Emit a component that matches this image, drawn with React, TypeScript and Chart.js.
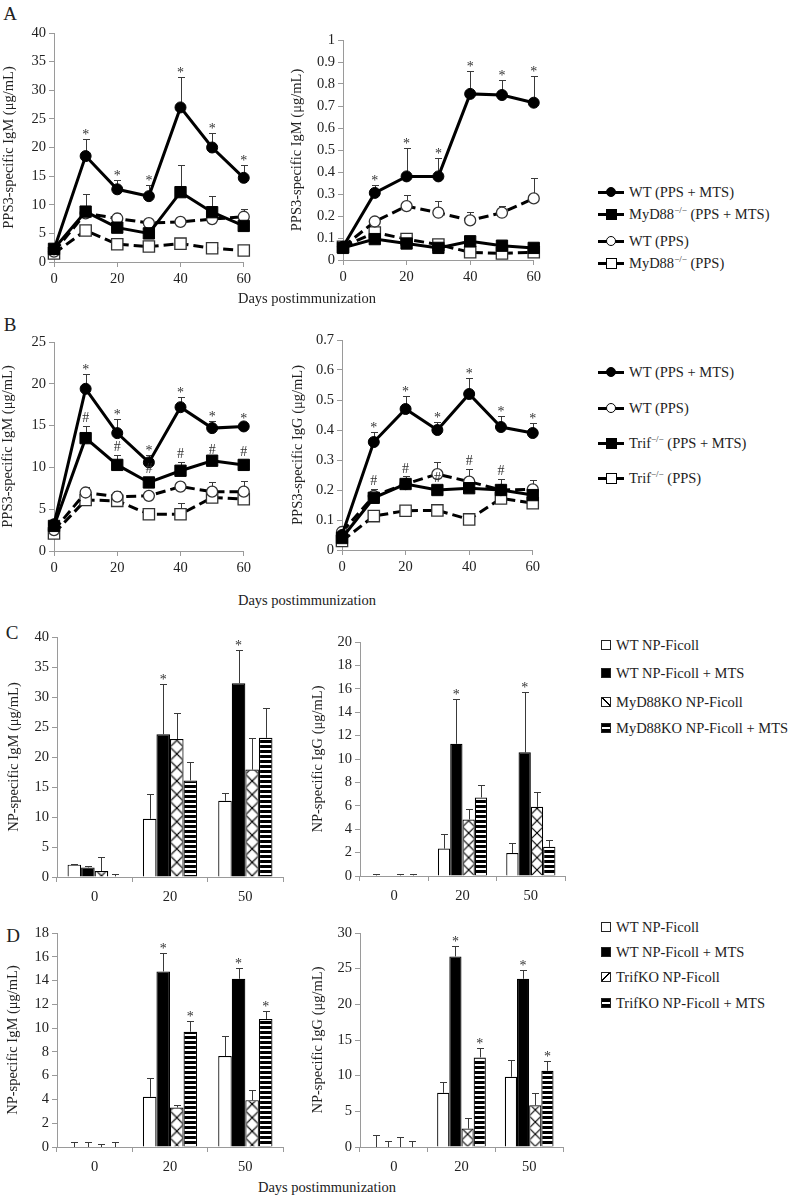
import React, { useEffect, useRef } from "react";
import { Chart, registerables } from "chart.js";
Chart.register(...registerables);

const FONT = '"Liberation Serif", "Times New Roman", "DejaVu Serif", serif';

// ---------- Panels A / B : time courses ----------
const days = [0, 10, 20, 30, 40, 50, 60];

// A left: PPS3-specific IgM (0-40)
const aLWtMts = [2.2, 18.5, 12.7, 11.5, 27.0, 20.0, 14.7];
const aLWtMtsErr = [null, 21.5, 14.3, 13.5, 32.3, 22.6, 17.0];
const aLMyMts = [2.3, 8.8, 6.0, 5.0, 12.2, 8.7, 6.3];
const aLMyMtsErr = [null, 11.8, null, null, 16.9, 11.5, null];
const aLWtPps = [1.8, 8.5, 7.6, 6.8, 7.0, 7.5, 7.9];
const aLWtPpsErr = [null, 9.7, 8.5, null, null, 8.2, 9.2];
const aLMyPps = [1.5, 5.5, 3.1, 2.7, 3.2, 2.4, 2.0];
const aLStars = ["", "*", "*", "*", "*", "*", "*"];

// A right: PPS3-specific IgM (0-1)
const aRWtMts = [0.06, 0.305, 0.38, 0.38, 0.755, 0.75, 0.715];
const aRWtMtsErr = [null, 0.34, 0.51, 0.465, 0.86, 0.82, 0.835];
const aRMyMts = [0.055, 0.095, 0.075, 0.055, 0.085, 0.065, 0.055];
const aRWtPps = [0.06, 0.175, 0.245, 0.215, 0.18, 0.215, 0.28];
const aRWtPpsErr = [null, 0.19, 0.295, 0.27, 0.22, 0.245, 0.375];
const aRMyPps = [0.06, 0.125, 0.095, 0.07, 0.035, 0.03, 0.035];
const aRStars = ["", "*", "*", "*", "*", "*", "*"];

// B left: PPS3-specific IgM (0-25)
const bLWtMts = [3.2, 19.4, 14.1, 10.6, 17.2, 14.7, 14.9];
const bLWtMtsErr = [null, 21.2, 15.8, 11.5, 18.4, 15.6, 15.3];
const bLTrMts = [3.0, 13.5, 10.3, 8.2, 9.6, 10.8, 10.3];
const bLTrMtsErr = [null, 15.0, 11.5, 8.9, 10.6, 11.1, 10.9];
const bLWtPps = [2.5, 7.0, 6.5, 6.6, 7.7, 7.1, 7.1];
const bLWtPpsErr = [null, 7.6, 7.2, null, 8.3, 8.3, 8.4];
const bLTrPps = [2.1, 6.1, 6.0, 4.4, 4.4, 6.4, 6.2];
const bLTrPpsErr = [null, null, null, null, 5.8, null, null];
const bLStars = ["", "*", "*", "*", "*", "*", "*"];
const bLHashes = ["", "#", "#", "#", "#", "#", "#"];

// B right: PPS3-specific IgG (0-0.7)
const bRWtMts = [0.05, 0.36, 0.47, 0.4, 0.52, 0.41, 0.39];
const bRWtMtsErr = [null, 0.392, 0.513, 0.428, 0.574, 0.448, 0.424];
const bRTrMts = [0.04, 0.174, 0.22, 0.2, 0.206, 0.2, 0.183];
const bRTrMtsErr = [null, 0.202, 0.245, 0.215, 0.27, 0.237, null];
const bRWtPps = [0.06, 0.18, 0.22, 0.253, 0.228, 0.2, 0.202];
const bRWtPpsErr = [null, null, null, 0.292, null, null, 0.235];
const bRTrPps = [0.03, 0.113, 0.131, 0.132, 0.102, 0.172, 0.156];
const bRStars = ["", "*", "*", "*", "*", "*", "*"];
const bRHashes = ["", "#", "#", "#", "#", "#", ""];

// ---------- Panels C / D : NP-Ficoll bars ----------
const groups = ["0", "20", "50"];

// C left: NP-specific IgM (0-40)
const cLWt = [2.06, 9.7, 12.7];
const cLWtErr = [2.2, 13.9, 14.05];
const cLWtMts = [1.6, 23.8, 32.3];
const cLWtMtsErr = [1.85, 32.2, 37.9];
const cLKo = [1.0, 23.0, 17.9];
const cLKoErr = [3.4, 27.3, 23.2];
const cLKoMts = [0.1, 16.1, 23.2];
const cLKoMtsErr = [0.5, 19.1, 28.1];
const cLStars = ["", "*", "*"];

// C right: NP-specific IgG (0-20)
const cRWt = [0.05, 2.34, 1.97];
const cRWtErr = [0.15, 3.63, 2.83];
const cRWtMts = [0, 11.3, 10.57];
const cRWtMtsErr = [null, 15.14, 15.7];
const cRKo = [0.05, 4.83, 5.91];
const cRKoErr = [0.15, 5.74, 7.2];
const cRKoMts = [0.05, 6.71, 2.49];
const cRKoMtsErr = [0.15, 7.77, 3.06];
const cRStars = ["", "*", "*"];

// D left: NP-specific IgM (0-18)
const dLWt = [0, 4.22, 7.65];
const dLWtErr = [0.42, 5.77, 9.37];
const dLWtMts = [0, 14.77, 14.15];
const dLWtMtsErr = [0.42, 16.3, 15.05];
const dLKo = [0, 3.32, 3.94];
const dLKoErr = [0.28, 3.52, 4.78];
const dLKoMts = [0, 9.7, 10.77];
const dLKoMtsErr = [0.42, 10.63, 11.42];
const dLStars = ["", "*", "*"];

// D right: NP-specific IgG (0-30)
const dRWt = [0, 7.6, 9.84];
const dRWtErr = [1.73, 9.14, 12.19];
const dRWtMts = [0, 26.72, 23.58];
const dRWtMtsErr = [0.84, 28.2, 24.84];
const dRKo = [0, 2.58, 5.86];
const dRKoErr = [1.41, 4.13, 7.59];
const dRKoMts = [0, 12.56, 10.69];
const dRKoMtsErr = [0.84, 13.92, 12.05];
const dRStars = ["", "*", "*"];

// ---------- text ----------
const yTitlePpsIgm = "PPS3-specific IgM (μg/mL)";
const yTitlePpsIgg = "PPS3-specific IgG (μg/mL)";
const yTitleNpIgm = "NP-specific IgM (μg/mL)";
const yTitleNpIgg = "NP-specific IgG (μg/mL)";
const xTitle = "Days postimmunization";

const legendA = [
  { name: "WT", sup: "", rest: " (PPS + MTS)", shape: "circle", filled: true },
  { name: "MyD88", sup: "−/−", rest: " (PPS + MTS)", shape: "square", filled: true },
  { name: "WT", sup: "", rest: " (PPS)", shape: "circle", filled: false },
  { name: "MyD88", sup: "−/−", rest: " (PPS)", shape: "square", filled: false },
];
const legendB = [
  { name: "WT", sup: "", rest: " (PPS + MTS)", shape: "circle", filled: true },
  { name: "WT", sup: "", rest: " (PPS)", shape: "circle", filled: false },
  { name: "Trif", sup: "−/−", rest: " (PPS + MTS)", shape: "square", filled: true },
  { name: "Trif", sup: "−/−", rest: " (PPS)", shape: "square", filled: false },
];
const legendC = ["WT NP-Ficoll", "WT NP-Ficoll + MTS", "MyD88KO NP-Ficoll", "MyD88KO NP-Ficoll + MTS"];
const legendD = ["WT NP-Ficoll", "WT NP-Ficoll + MTS", "TrifKO NP-Ficoll", "TrifKO NP-Ficoll + MTS"];

// ---------- helpers ----------
const AXIS = "#9a9a9a";
const TXT = "#222";
const CAT_PCT = 0.72;

const errPlugin = {
  id: "errAndMarks",
  beforeDatasetsDraw(chart: any) {
    const ctx = chart.ctx;
    const ys = chart.scales.y;
    chart.data.datasets.forEach((ds: any, di: number) => {
      if (!ds.errTop) return;
      const meta = chart.getDatasetMeta(di);
      const cap = ds.capW || 7;
      ctx.save();
      ctx.strokeStyle = "#3a3a3a";
      ctx.lineWidth = 1;
      ctx.setLineDash([]);
      ds.errTop.forEach((t: any, i: number) => {
        if (t == null) return;
        const el = meta.data[i];
        if (!el) return;
        const x = Math.round(el.x) + 0.5;
        const y1 = Math.round(ys.getPixelForValue(t)) + 0.5;
        ctx.beginPath();
        ctx.moveTo(x, el.y);
        ctx.lineTo(x, y1);
        ctx.moveTo(x - cap / 2, y1);
        ctx.lineTo(x + cap / 2, y1);
        ctx.stroke();
      });
      ctx.restore();
    });
  },
  afterDatasetsDraw(chart: any) {
    const ctx = chart.ctx;
    const ys = chart.scales.y;
    chart.data.datasets.forEach((ds: any, di: number) => {
      if (!ds.marks) return;
      const meta = chart.getDatasetMeta(di);
      ctx.save();
      ctx.fillStyle = "#333";
      ctx.font = `14px ${FONT}`;
      ctx.textAlign = "center";
      ctx.textBaseline = "alphabetic";
      ds.marks.forEach((m: string, i: number) => {
        if (!m) return;
        const el = meta.data[i];
        if (!el) return;
        const t = ds.errTop && ds.errTop[i] != null ? ys.getPixelForValue(ds.errTop[i]) : el.y - 6;
        const y = m === "#" ? t - 4 : t;
        ctx.fillText(m, el.x, y);
      });
      ctx.restore();
    });
  },
};

type Geom = { left: number; padL: number; aL: number; aT: number; aB: number; aR: number };
const PAD_T = 12, PAD_R = 8, X_H = 26, PAD_B = 2;
function dims(g: Geom) {
  return {
    top: g.aT - PAD_T,
    width: g.aR + PAD_R - g.left,
    height: PAD_T + (g.aB - g.aT) + X_H + PAD_B,
    yW: g.aL - g.left - g.padL,
  };
}

const fmt = (v: any) => String(Math.round(Number(v) * 1000) / 1000);

function yScale(g: Geom, max: number, step: number, title: string) {
  const d = dims(g);
  return {
    type: "linear",
    min: 0,
    max,
    ticks: { stepSize: step, color: TXT, font: { family: FONT, size: 14.5 }, padding: 3, callback: fmt },
    grid: { drawOnChartArea: false, drawTicks: true, tickLength: 5, color: AXIS },
    border: { display: true, color: AXIS, width: 1 },
    title: { display: true, text: title, color: TXT, font: { family: FONT, size: 14.5, lineHeight: 1 }, padding: 0 },
    afterFit: (s: any) => {
      s.width = d.yW;
    },
  };
}

function xLinear() {
  return {
    type: "linear",
    min: 0,
    max: 60,
    ticks: { stepSize: 20, color: TXT, font: { family: FONT, size: 14.5 }, padding: 3, maxRotation: 0 },
    grid: { drawOnChartArea: false, drawTicks: true, tickLength: 5, color: AXIS },
    border: { display: true, color: AXIS, width: 1 },
    afterFit: (s: any) => {
      s.height = X_H;
    },
  };
}

function xCategory() {
  return {
    type: "category",
    ticks: { color: TXT, font: { family: FONT, size: 14.5 }, padding: 6, maxRotation: 0 },
    grid: { offset: true, drawOnChartArea: false, drawTicks: true, tickLength: 5, color: AXIS },
    border: { display: true, color: AXIS, width: 1 },
    afterFit: (s: any) => {
      s.height = X_H;
    },
  };
}

function baseOptions(g: Geom) {
  return {
    responsive: false,
    animation: false,
    devicePixelRatio: 1,
    layout: { padding: { left: g.padL, top: PAD_T, right: PAD_R, bottom: PAD_B } },
    plugins: { legend: { display: false }, tooltip: { enabled: false } },
    events: [],
  };
}

function lineDs(values: number[], errTop: any[] | null, marks: string[] | null, shape: string, filled: boolean) {
  return {
    data: days.map((d, i) => ({ x: d, y: values[i] })),
    errTop,
    marks,
    capW: 7,
    borderColor: "#000",
    borderWidth: 3,
    borderDash: filled ? [] : [10, 5],
    pointStyle: shape === "circle" ? "circle" : "rect",
    pointRadius: shape === "circle" ? 5.5 : 8,
    pointBackgroundColor: filled ? "#000" : "#fff",
    pointBorderColor: filled ? "#000" : "#333",
    pointBorderWidth: filled ? 1 : 1.3,
    tension: 0,
    clip: false,
  };
}

function lineConfig(g: Geom, max: number, step: number, title: string, sets: any[]) {
  return {
    type: "line",
    data: { datasets: sets },
    options: { ...baseOptions(g), scales: { x: xLinear(), y: yScale(g, max, step, title) } },
    plugins: [errPlugin],
  };
}

function makePatterns() {
  const c1 = document.createElement("canvas");
  c1.width = 12;
  c1.height = 12;
  const g1 = c1.getContext("2d")!;
  g1.fillStyle = "#fff";
  g1.fillRect(0, 0, 12, 12);
  g1.strokeStyle = "#000";
  g1.lineWidth = 1.1;
  g1.beginPath();
  g1.moveTo(-1, -1);
  g1.lineTo(13, 13);
  g1.moveTo(13, -1);
  g1.lineTo(-1, 13);
  g1.stroke();
  const c2 = document.createElement("canvas");
  c2.width = 5;
  c2.height = 5;
  const g2 = c2.getContext("2d")!;
  g2.fillStyle = "#fff";
  g2.fillRect(0, 0, 5, 5);
  g2.fillStyle = "#000";
  g2.fillRect(0, 0, 5, 3);
  return { crossTile: c1, stripeTile: c2 };
}

function barConfig(
  ctx: CanvasRenderingContext2D,
  g: Geom,
  max: number,
  step: number,
  title: string,
  vals: number[][],
  errs: any[][],
  marks: (string[] | null)[]
) {
  const p = makePatterns();
  const stripe = ctx.createPattern(p.stripeTile, "repeat");
  // cross-hatch aligned so that one "X" spans the bar width
  const crossFill = (c: any) => {
    const xs = c.chart.scales.x;
    const pat: any = ctx.createPattern(p.crossTile, "repeat");
    if (!xs || c.dataIndex == null || !xs.width) return pat;
    const cx = xs.getPixelForValue(c.dataIndex);
    const w = ((xs.width / groups.length) * CAT_PCT) / 4;
    if (pat && pat.setTransform && typeof DOMMatrix !== "undefined") {
      pat.setTransform(new DOMMatrix().translate(cx, 0).scale(w / 12, w / 12));
    }
    return pat;
  };
  const fills: any[] = ["#fff", "#000", crossFill, stripe];
  return {
    type: "bar",
    data: {
      labels: groups,
      datasets: vals.map((v, k) => ({
        data: v,
        errTop: errs[k],
        marks: marks[k],
        capW: 7,
        backgroundColor: fills[k],
        borderColor: "#000",
        borderWidth: 1.2,
        categoryPercentage: CAT_PCT,
        barPercentage: 1,
      })),
    },
    options: { ...baseOptions(g), scales: { x: xCategory(), y: yScale(g, max, step, title) } },
    plugins: [errPlugin],
  };
}

function ChartBox({ g, make }: { g: Geom; make: (ctx: CanvasRenderingContext2D) => any }) {
  const ref = useRef<HTMLCanvasElement>(null);
  const d = dims(g);
  useEffect(() => {
    const c = ref.current!;
    const chart = new Chart(c, make(c.getContext("2d")!));
    return () => chart.destroy();
  }, []);
  return (
    <canvas
      ref={ref}
      width={d.width}
      height={d.height}
      style={{ position: "absolute", left: g.left, top: d.top, width: d.width, height: d.height }}
    />
  );
}

// ---------- geometry ----------
const gAL: Geom = { left: 0, padL: 2, aL: 54, aT: 33, aB: 262, aR: 246 };
const gAR: Geom = { left: 287, padL: 3, aL: 343, aT: 40, aB: 260, aR: 536 };
const gBL: Geom = { left: 0, padL: 1, aL: 54, aT: 342, aB: 551, aR: 246 };
const gBR: Geom = { left: 287, padL: 4, aL: 342, aT: 340, aB: 550, aR: 535 };
const gCL: Geom = { left: 0, padL: 7, aL: 57, aT: 637, aB: 877, aR: 283 };
const gCR: Geom = { left: 300, padL: 11, aL: 360, aT: 642, aB: 876, aR: 565 };
const gDL: Geom = { left: 0, padL: 6, aL: 57, aT: 933, aB: 1147, aR: 283 };
const gDR: Geom = { left: 300, padL: 11, aL: 360, aT: 933, aB: 1147, aR: 563 };

// ---------- legend pieces ----------
function LineKey({ shape, filled }: { shape: string; filled: boolean }) {
  return (
    <span style={{ position: "relative", display: "inline-block", width: 26, height: 12, marginRight: 5, flex: "none" }}>
      <span style={{ position: "absolute", left: 0, right: 0, top: 4.5, height: 3, background: "#000" }} />
      <span
        style={{
          position: "absolute",
          left: shape === "circle" ? 8 : 7.5,
          top: shape === "circle" ? 1 : 0.5,
          width: shape === "circle" ? 10 : 11,
          height: shape === "circle" ? 10 : 11,
          boxSizing: "border-box",
          border: "1.3px solid #000",
          borderRadius: shape === "circle" ? "50%" : 0,
          background: filled ? "#000" : "#fff",
        }}
      />
    </span>
  );
}

const keyFills = [
  "#fff",
  "#000",
  "linear-gradient(45deg, #fff 0 44%, #000 44% 58%, #fff 58%)",
  "linear-gradient(#000 0 35%, #fff 35% 62%, #000 62%)",
];
const keyFillsD = [
  "#fff",
  "#000",
  "linear-gradient(-45deg, #fff 0 44%, #000 44% 58%, #fff 58%)",
  "linear-gradient(#000 0 35%, #fff 35% 62%, #000 62%)",
];

function LineLegend({ items, ys }: { items: typeof legendA; ys: number[] }) {
  return (
    <>
      {items.map((it, i) => (
        <div
          key={i}
          style={{
            position: "absolute",
            left: 598,
            top: ys[i] - 9,
            height: 18,
            display: "flex",
            alignItems: "center",
            whiteSpace: "nowrap",
            fontSize: 14.5,
          }}
        >
          <LineKey shape={it.shape} filled={it.filled} />
          <span>
            {it.name}
            {it.sup ? <sup style={{ fontSize: "0.62em", lineHeight: 0 }}>{it.sup}</sup> : null}
            {it.rest}
          </span>
        </div>
      ))}
    </>
  );
}

function BarLegend({ items, ys, fills }: { items: string[]; ys: number[]; fills: string[] }) {
  return (
    <>
      {items.map((t, i) => (
        <div
          key={i}
          style={{
            position: "absolute",
            left: 601,
            top: ys[i] - 9,
            height: 18,
            display: "flex",
            alignItems: "center",
            whiteSpace: "nowrap",
            fontSize: 14.5,
          }}
        >
          <span
            style={{
              display: "inline-block",
              width: 10,
              height: 10,
              boxSizing: "border-box",
              border: "1.5px solid #222",
              background: fills[i],
              marginRight: 5,
              flex: "none",
            }}
          />
          <span>{t}</span>
        </div>
      ))}
    </>
  );
}

function Label({ text, x, y, size = 14.5 }: { text: string; x: number; y: number; size?: number }) {
  return (
    <div
      style={{
        position: "absolute",
        left: x,
        top: y,
        transform: "translate(-50%, -50%)",
        fontSize: size,
        whiteSpace: "nowrap",
        lineHeight: 1,
      }}
    >
      {text}
    </div>
  );
}

export default function App() {
  return (
    <div
      style={{
        position: "absolute",
        left: 0,
        top: 0,
        width: 793,
        height: 1196,
        background: "#fff",
        fontFamily: FONT,
        color: TXT,
        overflow: "hidden",
      }}
    >
      <Label text="A" x={10} y={13} size={19} />
      <Label text="B" x={10} y={324} size={19} />
      <Label text="C" x={12} y={632} size={19} />
      <Label text="D" x={13} y={935} size={19} />

      <ChartBox
        g={gAL}
        make={() =>
          lineConfig(gAL, 40, 5, yTitlePpsIgm, [
            lineDs(aLWtMts, aLWtMtsErr, aLStars, "circle", true),
            lineDs(aLMyMts, aLMyMtsErr, null, "square", true),
            lineDs(aLWtPps, aLWtPpsErr, null, "circle", false),
            lineDs(aLMyPps, null, null, "square", false),
          ])
        }
      />
      <ChartBox
        g={gAR}
        make={() =>
          lineConfig(gAR, 1, 0.1, yTitlePpsIgm, [
            lineDs(aRWtMts, aRWtMtsErr, aRStars, "circle", true),
            lineDs(aRMyMts, null, null, "square", true),
            lineDs(aRWtPps, aRWtPpsErr, null, "circle", false),
            lineDs(aRMyPps, null, null, "square", false),
          ])
        }
      />
      <Label text={xTitle} x={307} y={298} />
      <LineLegend items={legendA} ys={[192, 214, 241, 263]} />

      <ChartBox
        g={gBL}
        make={() =>
          lineConfig(gBL, 25, 5, yTitlePpsIgm, [
            lineDs(bLWtMts, bLWtMtsErr, bLStars, "circle", true),
            lineDs(bLTrMts, bLTrMtsErr, bLHashes, "square", true),
            lineDs(bLWtPps, bLWtPpsErr, null, "circle", false),
            lineDs(bLTrPps, bLTrPpsErr, null, "square", false),
          ])
        }
      />
      <ChartBox
        g={gBR}
        make={() =>
          lineConfig(gBR, 0.7, 0.1, yTitlePpsIgg, [
            lineDs(bRWtMts, bRWtMtsErr, bRStars, "circle", true),
            lineDs(bRTrMts, bRTrMtsErr, bRHashes, "square", true),
            lineDs(bRWtPps, bRWtPpsErr, null, "circle", false),
            lineDs(bRTrPps, null, null, "square", false),
          ])
        }
      />
      <Label text={xTitle} x={307} y={600} />
      <LineLegend items={legendB} ys={[372, 408, 443, 478]} />

      <ChartBox
        g={gCL}
        make={(ctx) =>
          barConfig(
            ctx,
            gCL,
            40,
            5,
            yTitleNpIgm,
            [cLWt, cLWtMts, cLKo, cLKoMts],
            [cLWtErr, cLWtMtsErr, cLKoErr, cLKoMtsErr],
            [null, cLStars, null, null]
          )
        }
      />
      <ChartBox
        g={gCR}
        make={(ctx) =>
          barConfig(
            ctx,
            gCR,
            20,
            2,
            yTitleNpIgg,
            [cRWt, cRWtMts, cRKo, cRKoMts],
            [cRWtErr, cRWtMtsErr, cRKoErr, cRKoMtsErr],
            [null, cRStars, null, null]
          )
        }
      />
      <BarLegend items={legendC} ys={[645, 673, 702, 728]} fills={keyFills} />

      <ChartBox
        g={gDL}
        make={(ctx) =>
          barConfig(
            ctx,
            gDL,
            18,
            2,
            yTitleNpIgm,
            [dLWt, dLWtMts, dLKo, dLKoMts],
            [dLWtErr, dLWtMtsErr, dLKoErr, dLKoMtsErr],
            [null, dLStars, null, dLStars]
          )
        }
      />
      <ChartBox
        g={gDR}
        make={(ctx) =>
          barConfig(
            ctx,
            gDR,
            30,
            5,
            yTitleNpIgg,
            [dRWt, dRWtMts, dRKo, dRKoMts],
            [dRWtErr, dRWtMtsErr, dRKoErr, dRKoMtsErr],
            [null, dRStars, null, dRStars]
          )
        }
      />
      <BarLegend items={legendD} ys={[927, 952, 977, 1003]} fills={keyFillsD} />
      <Label text={xTitle} x={327} y={1187} />
    </div>
  );
}
